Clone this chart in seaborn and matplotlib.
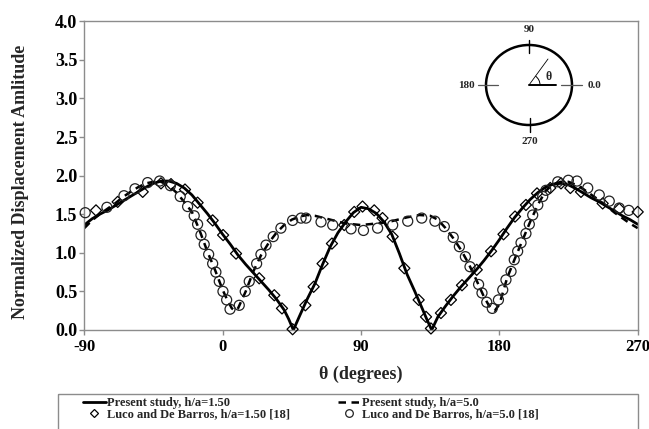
import numpy as np
import pandas as pd
import matplotlib
matplotlib.use("Agg")
import matplotlib.pyplot as plt
import seaborn as sns
from matplotlib.lines import Line2D
from matplotlib.patches import Ellipse, Arc, Rectangle

# ---------------- data ----------------
theta_a = [-90, -85, -80, -75, -70, -65, -60, -55, -50, -45, -40, -35, -30, -25, -20, -15, -10, -5,
           0, 5, 10, 15, 20, 25, 30, 35, 40, 43, 46, 50, 55, 60, 65, 70, 75, 80, 85, 90, 95, 100,
           105, 110, 115, 120, 125, 130, 133, 136, 140, 145, 150, 155, 160, 165, 170, 175, 180,
           185, 190, 195, 200, 205, 210, 215, 220, 225, 230, 235, 240, 245, 250, 255, 260, 265, 270]
amp_a = [1.36, 1.44, 1.50, 1.55, 1.61, 1.67, 1.73, 1.79, 1.85, 1.90, 1.93, 1.93, 1.90, 1.84, 1.75,
         1.63, 1.51, 1.38, 1.24, 1.11, 0.97, 0.85, 0.74, 0.63, 0.52, 0.40, 0.26, 0.14, 0.00, 0.18,
         0.40, 0.60, 0.85, 1.08, 1.26, 1.40, 1.52, 1.59, 1.57, 1.51, 1.40, 1.24, 0.99, 0.72, 0.50,
         0.27, 0.13, 0.00, 0.17, 0.31, 0.44, 0.56, 0.67, 0.78, 0.90, 1.03, 1.17, 1.32, 1.46, 1.58,
         1.69, 1.78, 1.85, 1.89, 1.90, 1.88, 1.83, 1.77, 1.71, 1.66, 1.60, 1.54, 1.48, 1.43, 1.37]

theta_b = [-90, -85, -80, -75, -70, -65, -60, -55, -50, -45, -40, -35, -30, -25, -20, -15, -10, -5,
           0, 3, 6, 8, 10, 15, 20, 25, 30, 35, 40, 45, 50, 55, 60, 70, 80, 90, 100, 110, 120, 128,
           135, 140, 145, 150, 155, 160, 165, 170, 174, 177, 180, 185, 190, 195, 200, 205, 210, 215,
           220, 225, 230, 235, 240, 245, 250, 255, 260, 265, 270]
amp_b = [1.32, 1.42, 1.50, 1.57, 1.64, 1.72, 1.79, 1.85, 1.90, 1.92, 1.92, 1.87, 1.78, 1.66, 1.53,
         1.29, 1.02, 0.78, 0.52, 0.39, 0.28, 0.25, 0.28, 0.50, 0.76, 0.97, 1.13, 1.26, 1.36, 1.43,
         1.47, 1.49, 1.48, 1.43, 1.38, 1.36, 1.38, 1.41, 1.46, 1.49, 1.48, 1.43, 1.32, 1.19, 1.04,
         0.86, 0.65, 0.43, 0.29, 0.25, 0.33, 0.67, 0.92, 1.16, 1.40, 1.62, 1.80, 1.89, 1.92, 1.92,
         1.88, 1.82, 1.75, 1.68, 1.60, 1.52, 1.45, 1.38, 1.32]

luco_a_theta = [-82.4, -68.3, -52.0, -40.1, -33.6, -24.5, -16.3, -6.5, 0.3, 8.7, 23.8, 33.6, 38.6,
                45.5, 53.8, 59.2, 65.0, 71.1, 79.1, 85.6, 91.0, 98.6, 104.0, 110.6, 118.2, 127.5,
                132.3, 135.5, 142.0, 148.5, 155.7, 165.3, 174.6, 182.7, 190.2, 197.3, 204.5, 213.1,
                220.1, 226.2, 233.1, 247.2, 258.0, 270.0]
luco_a_amp = [1.55, 1.66, 1.79, 1.90, 1.89, 1.82, 1.65, 1.42, 1.23, 0.99, 0.67, 0.45, 0.28,
              0.01, 0.32, 0.56, 0.86, 1.12, 1.36, 1.53, 1.60, 1.55, 1.45, 1.21, 0.80, 0.39,
              0.17, 0.02, 0.22, 0.39, 0.58, 0.78, 1.02, 1.24, 1.47, 1.62, 1.77, 1.84,
              1.90, 1.84, 1.79, 1.64, 1.57, 1.53]

luco_b_theta = [-89.4, -75.3, -64.2, -57.0, -48.8, -41.0, -34.0, -27.6, -22.8, -18.5, -16.3, -14.1,
                -12.0, -9.1, -6.5, -4.4, -2.2, 0.2, 2.6, 4.8, 10.8, 14.7, 17.3, 22.1, 24.9, 28.2,
                32.9, 37.9, 45.5, 51.0, 54.2, 64.0, 71.6, 83.5, 91.6, 100.8, 110.6, 120.4, 129.5,
                138.1, 144.2, 150.0, 154.0, 157.9, 160.9, 166.5, 168.7, 171.8, 175.4, 179.4, 182.2,
                184.3, 187.6, 189.7, 191.9, 194.1, 197.3, 199.5, 201.7, 205.0, 208.2, 210.3, 218.0,
                224.9, 230.5, 237.5, 245.0, 251.5, 258.0, 264.2]
luco_b_amp = [1.52, 1.59, 1.74, 1.83, 1.91, 1.93, 1.87, 1.73, 1.60, 1.48, 1.37, 1.23,
              1.11, 0.98, 0.86, 0.75, 0.63, 0.50, 0.39, 0.27, 0.32, 0.50, 0.63, 0.86, 0.98, 1.10,
              1.21, 1.32, 1.42, 1.45, 1.45, 1.40, 1.36, 1.31, 1.29, 1.32, 1.36, 1.41, 1.45,
              1.41, 1.34, 1.20, 1.08, 0.95, 0.82, 0.59, 0.48, 0.36, 0.28, 0.39, 0.52,
              0.65, 0.76, 0.91, 1.02, 1.13, 1.25, 1.37, 1.49, 1.62, 1.73, 1.81, 1.92,
              1.94, 1.93, 1.84, 1.75, 1.67, 1.58, 1.55]

x_ticks = [-90, 0, 90, 180, 270]
y_ticks = [0.0, 0.5, 1.0, 1.5, 2.0, 2.5, 3.0, 3.5, 4.0]
labels = ["Present study, h/a=1.50", "Luco and De Barros, h/a=1.50 [18]",
          "Present study, h/a=5.0", "Luco and De Barros, h/a=5.0 [18]"]
inset_labels = ["90", "180", "0.0", "270"]

# ---------------- style ----------------
sns.set_theme(style="white")
plt.rcParams['font.family'] = ['Liberation Serif', 'DejaVu Serif']
plt.rcParams['font.weight'] = 'bold'
GRAY = '#8c8c8c'

W, H = 649, 429
fig = plt.figure(figsize=(W / 100, H / 100), dpi=100)
ax = fig.add_axes([84.3 / W, 99 / H, 553.4 / W, 308.7 / H])

sns.lineplot(x=theta_a, y=amp_a, ax=ax, color='black', lw=2.0, sort=False, estimator=None)
sns.lineplot(x=theta_b, y=amp_b, ax=ax, color='black', lw=1.8, sort=False, estimator=None)
ax.lines[-1].set_linestyle((0, (3, 2.2)))

sns.scatterplot(x=luco_a_theta, y=luco_a_amp, ax=ax, marker='D', s=32,
                facecolor='none', edgecolor='black', linewidth=0.9, clip_on=False, zorder=5)
sns.scatterplot(x=luco_b_theta, y=luco_b_amp, ax=ax, marker='o', s=52,
                facecolor='none', edgecolor='#222222', linewidth=0.9, clip_on=False, zorder=5)

ax.set_xlim(-90, 270)
ax.set_ylim(0, 4)
ax.set_xticks(x_ticks)
ax.set_xticklabels([str(v) for v in x_ticks])
ax.set_yticks(y_ticks)
ax.set_yticklabels([f"{v:.1f}" for v in y_ticks])
for s in ax.spines.values():
    s.set_color(GRAY)
    s.set_linewidth(1.0)
ax.tick_params(axis='both', which='major', direction='out', length=3.6, width=1.0,
               color=GRAY, labelcolor='black')
ax.tick_params(axis='x', pad=3, labelsize=12)
ax.tick_params(axis='y', pad=1.5, labelsize=13)
ax.tick_params(left=True, bottom=True)
for t in ax.get_xticklabels() + ax.get_yticklabels():
    t.set_fontweight('bold')

ax.set_xlabel("θ (degrees)", fontsize=13, fontweight='bold')
ax.set_ylabel("Normalized Displacement Amlitude", fontsize=13, fontweight='bold')
ax.xaxis.set_label_coords(0.5, -0.115)
ax.yaxis.set_label_coords(-0.1, 0.48)

# ---------------- overlay for inset + legend box ----------------
ov = fig.add_axes([0, 0, 1, 1], zorder=10)
ov.set_xlim(0, W)
ov.set_ylim(H, 0)
ov.axis('off')
ov.patch.set_visible(False)

cx, cy = 529, 85
ov.add_patch(Ellipse((cx, cy), 86, 80, fill=False, ec='black', lw=1.8))
ov.plot([cx, cx], [40, 53], color='black', lw=1.0)
ov.plot([cx + 1, cx + 1], [118, 132], color='black', lw=1.0)
ov.plot([478, 498], [cy, cy], color='#555555', lw=0.9)
ov.plot([561, 582], [cy, cy], color='#555555', lw=0.9)
ov.plot([cx, 548], [cy, 59], color='black', lw=0.6)
ov.plot([cx, 556], [cy, cy], color='black', lw=1.4)
ov.add_patch(Arc((cx, cy), 22, 22, theta1=-54, theta2=0, ec='black', lw=0.7))
ov.text(548.5, 77, "θ", fontsize=8.5, fontweight='bold', ha='center', va='center')
ov.text(529, 30, inset_labels[0], fontsize=8, fontweight='bold', ha='center', va='center')
ov.text(466, 85, inset_labels[1], fontsize=8, fontweight='bold', ha='center', va='center')
ov.text(595, 86, inset_labels[2], fontsize=8, fontweight='bold', ha='center', va='center')
ov.text(530, 142, inset_labels[3], fontsize=8, fontweight='bold', ha='center', va='center')

ov.add_patch(Rectangle((58, 394), 580, 60, fill=False, ec=GRAY, lw=1.0, clip_on=False))

handles = [
    Line2D([], [], color='black', lw=2.0),
    Line2D([], [], color='black', marker='D', ls='none', mfc='none', mec='black', ms=4.5, mew=0.9),
    Line2D([], [], color='black', lw=1.8, ls=(0, (3, 2.2))),
    Line2D([], [], color='#222222', marker='o', ls='none', mfc='none', mec='#222222', ms=5.5, mew=0.9),
]
fig.legend(handles, labels, ncol=2, loc='upper left', bbox_to_anchor=(83 / W, 1 - 397 / H),
           frameon=False, handlelength=1.8, handletextpad=0.15,
           columnspacing=3.8, labelspacing=-0.05, borderpad=0, borderaxespad=0,
           prop={'weight': 'bold', 'size': 9})

fig.savefig("out.png", dpi=100)
